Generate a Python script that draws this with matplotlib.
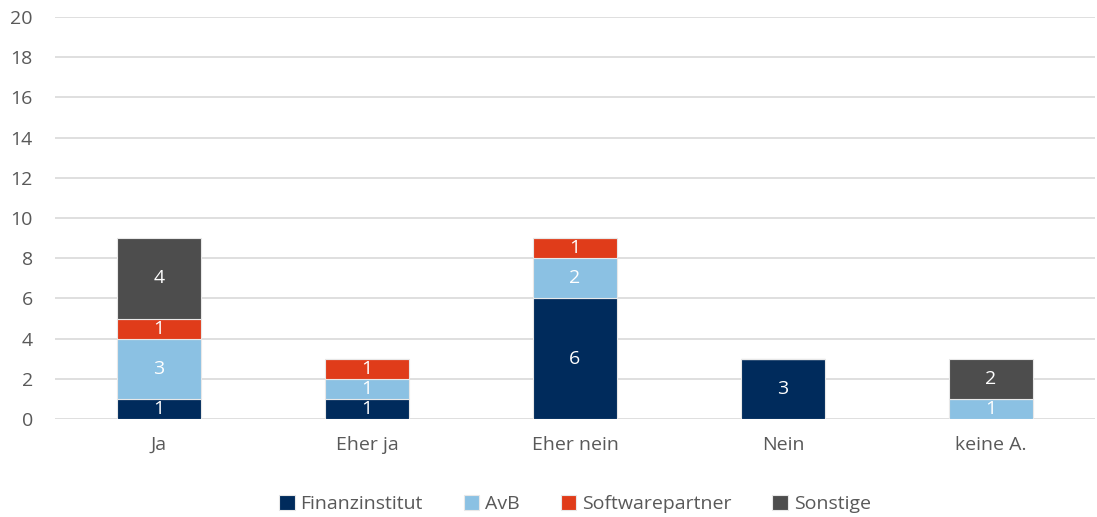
import matplotlib
matplotlib.use("Agg")
import matplotlib.pyplot as plt
import numpy as np

categories = ["Ja", "Eher ja", "Eher nein", "Nein", "keine A."]
series_names = ["Finanzinstitut", "AvB", "Softwarepartner", "Sonstige"]
finanzinstitut = [1, 1, 6, 3, 0]
avb = [3, 1, 2, 0, 1]
softwarepartner = [1, 1, 1, 0, 0]
sonstige = [4, 0, 0, 0, 2]
y_ticks = [0, 2, 4, 6, 8, 10, 12, 14, 16, 18, 20]

colors = ["#002B5C", "#8BC1E3", "#E03C1A", "#4D4D4D"]
plt.rcParams['font.family'] = ['Open Sans', 'DejaVu Sans']

fig = plt.figure(figsize=(10.97, 5.17), dpi=100)
ax = fig.add_axes([55/1097, (517-419)/517, (1095-55)/1097, (419-17)/517])

x = np.arange(len(categories))
bottom = np.zeros(len(categories))
for name, vals, c in zip(series_names, [finanzinstitut, avb, softwarepartner, sonstige], colors):
    vals = np.array(vals, dtype=float)
    ax.bar(x, vals, 0.40, bottom=bottom, color=c, label=name,
           edgecolor="#E8E8E8", linewidth=0.8, zorder=3)
    for xi, v, b in zip(x, vals, bottom):
        if v > 0:
            ax.text(xi, b + v / 2, f"{int(v)}", ha="center", va="center",
                    color="white", fontsize=14, zorder=4)
    bottom += vals

ax.set_xlim(-0.5, len(categories) - 0.5)
ax.set_ylim(0, 20)
ax.set_yticks(y_ticks)
ax.set_xticks(x)
ax.set_xticklabels(categories)
ax.yaxis.grid(True, color="#D9D9D9", linewidth=1.2, zorder=0)
ax.set_axisbelow(True)
for s in ax.spines.values():
    s.set_visible(False)
ax.tick_params(axis="both", length=0, colors="#595959", labelsize=14)
ax.tick_params(axis="x", pad=12)
ax.tick_params(axis="y", pad=16)

ax.legend(loc="upper center", bbox_to_anchor=(0.5, -0.145), ncol=4, frameon=False,
          fontsize=14, handlelength=0.8, handleheight=0.8, handletextpad=0.3,
          columnspacing=2.1, labelcolor="#595959")

fig.savefig("out.png", dpi=100)
